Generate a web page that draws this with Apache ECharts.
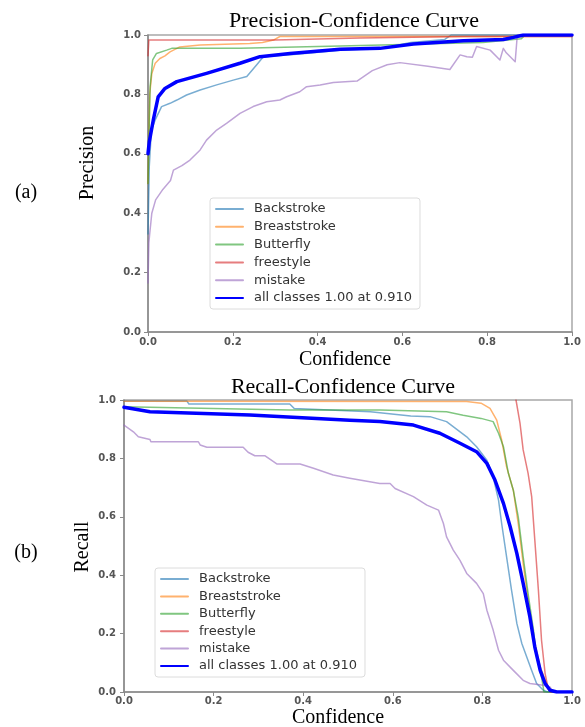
<!DOCTYPE html>
<html>
<head>
<meta charset="utf-8">
<script src="https://cdn.jsdelivr.net/npm/echarts@6/dist/echarts.min.js"></script>
<style>
  html, body { margin: 0; padding: 0; background: #fff; }
  #main { width: 585px; height: 727px; }
</style>
</head>
<body>
<div id="main"></div>
<script>
var classNames = ['Backstroke', 'Breaststroke', 'Butterfly', 'freestyle', 'mistake', 'all classes 1.00 at 0.910']
var classColors = ['#1f77b4', '#ff7f0e', '#2ca02c', '#d62728', '#9467bd', '#0000ff']
var axisTicks = [0, 0.2, 0.4, 0.6, 0.8, 1.0]

// precision - confidence, [confidence, precision]
var precBackstroke = [[0, 0.33], [0.003, 0.557], [0.008, 0.68], [0.017, 0.714], [0.032, 0.759], [0.052, 0.77], [0.068, 0.781], [0.091, 0.798], [0.123, 0.815], [0.162, 0.832], [0.201, 0.848], [0.233, 0.86], [0.256, 0.899], [0.272, 0.927], [0.35, 0.935], [0.453, 0.949], [0.55, 0.955], [0.62, 0.975], [0.70, 0.985], [0.715, 1.0], [1, 1]]
var precBreaststroke = [[0, 0.5], [0.004, 0.8], [0.009, 0.87], [0.017, 0.905], [0.028, 0.921], [0.04, 0.93], [0.052, 0.943], [0.075, 0.96], [0.123, 0.966], [0.24, 0.971], [0.27, 0.975], [0.296, 0.983], [0.311, 0.995], [1, 0.995]]
var precButterfly = [[0, 0.5], [0.003, 0.7], [0.005, 0.826], [0.011, 0.916], [0.02, 0.938], [0.044, 0.949], [0.056, 0.955], [0.217, 0.955], [0.453, 0.963], [0.6, 0.968], [0.79, 0.975], [0.88, 0.987], [0.89, 1], [1, 1]]
var precFreestyle = [[0, 0.93], [0.002, 0.983], [0.3, 0.983], [0.5, 0.99], [0.75, 0.995], [1, 0.995]]
var precMistake = [[0, 0.165], [0.002, 0.3], [0.004, 0.33], [0.009, 0.4], [0.018, 0.445], [0.035, 0.48], [0.053, 0.51], [0.06, 0.545], [0.08, 0.56], [0.099, 0.579], [0.123, 0.613], [0.138, 0.646], [0.162, 0.68], [0.186, 0.703], [0.217, 0.736], [0.248, 0.759], [0.28, 0.775], [0.311, 0.781], [0.327, 0.792], [0.358, 0.809], [0.374, 0.826], [0.406, 0.832], [0.437, 0.84], [0.493, 0.845], [0.529, 0.88], [0.564, 0.9], [0.594, 0.907], [0.66, 0.895], [0.712, 0.884], [0.736, 0.933], [0.752, 0.927], [0.765, 0.925], [0.775, 0.961], [0.807, 0.949], [0.83, 0.916], [0.838, 0.955], [0.845, 0.94], [0.866, 0.91], [0.871, 1.0], [1, 1]]
var precAll = [[0, 0.6], [0.003, 0.64], [0.0125, 0.714], [0.024, 0.792], [0.04, 0.82], [0.068, 0.843], [0.138, 0.871], [0.217, 0.905], [0.264, 0.927], [0.335, 0.938], [0.453, 0.952], [0.547, 0.955], [0.626, 0.97], [0.744, 0.981], [0.838, 0.985], [0.862, 0.992], [0.885, 1.0], [1, 1]]

// recall - confidence, [confidence, recall]
var recBackstroke = [[0, 0.997], [0.14, 0.997], [0.145, 0.986], [0.37, 0.986], [0.38, 0.971], [0.55, 0.96], [0.64, 0.945], [0.683, 0.943], [0.72, 0.926], [0.765, 0.874], [0.787, 0.84], [0.81, 0.794], [0.824, 0.737], [0.836, 0.657], [0.843, 0.577], [0.854, 0.463], [0.865, 0.349], [0.877, 0.234], [0.888, 0.166], [0.899, 0.12], [0.91, 0.074], [0.921, 0.029], [0.936, 0.006], [0.945, 0], [1, 0]]
var recBreaststroke = [[0, 0.996], [0.765, 0.995], [0.797, 0.989], [0.817, 0.971], [0.832, 0.931], [0.843, 0.863], [0.854, 0.771], [0.869, 0.691], [0.88, 0.577], [0.891, 0.44], [0.903, 0.303], [0.914, 0.189], [0.929, 0.086], [0.943, 0.029], [0.951, 0], [1, 0]]
var recButterfly = [[0, 0.977], [0.37, 0.966], [0.571, 0.966], [0.72, 0.96], [0.757, 0.948], [0.797, 0.937], [0.824, 0.926], [0.836, 0.886], [0.847, 0.84], [0.858, 0.749], [0.869, 0.691], [0.88, 0.6], [0.891, 0.463], [0.903, 0.326], [0.914, 0.212], [0.921, 0.12], [0.932, 0.051], [0.9375, 0], [1, 0]]
var recFreestyle = [[0.875, 1.0], [0.884, 0.92], [0.891, 0.829], [0.902, 0.749], [0.91, 0.669], [0.917, 0.52], [0.925, 0.349], [0.932, 0.177], [0.94, 0.063], [0.947, 0.011], [0.952, 0], [1, 0]]
var recMistake = [[0, 0.914], [0.021, 0.891], [0.032, 0.874], [0.058, 0.865], [0.06, 0.857], [0.166, 0.857], [0.17, 0.846], [0.185, 0.838], [0.266, 0.838], [0.277, 0.821], [0.292, 0.809], [0.315, 0.809], [0.341, 0.781], [0.393, 0.781], [0.423, 0.766], [0.467, 0.743], [0.504, 0.732], [0.571, 0.714], [0.594, 0.714], [0.605, 0.697], [0.646, 0.669], [0.676, 0.64], [0.702, 0.623], [0.713, 0.577], [0.72, 0.531], [0.735, 0.486], [0.75, 0.451], [0.765, 0.406], [0.787, 0.372], [0.802, 0.337], [0.81, 0.28], [0.824, 0.212], [0.836, 0.143], [0.847, 0.109], [0.869, 0.074], [0.891, 0.04], [0.906, 0.029], [0.936, 0.023], [0.951, 0.017], [0.958, 0], [1, 0]]
var recAll = [[0, 0.975], [0.058, 0.96], [0.281, 0.949], [0.504, 0.931], [0.571, 0.926], [0.646, 0.914], [0.705, 0.886], [0.75, 0.852], [0.787, 0.823], [0.81, 0.783], [0.828, 0.726], [0.847, 0.646], [0.862, 0.566], [0.877, 0.474], [0.891, 0.372], [0.906, 0.257], [0.917, 0.154], [0.929, 0.074], [0.94, 0.029], [0.951, 0.006], [0.966, 0], [1, 0]]

var precData = [precBackstroke, precBreaststroke, precButterfly, precFreestyle, precMistake, precAll]
var recData = [recBackstroke, recBreaststroke, recButterfly, recFreestyle, recMistake, recAll]

var serif = '"Liberation Serif", "Times New Roman", serif'
var sans = '"DejaVu Sans", sans-serif'

function makeAxis (idx, margin) {
  return {
    gridIndex: idx,
    type: 'value',
    min: axisTicks[0],
    max: axisTicks[axisTicks.length - 1],
    interval: 0.2,
    axisLine: { show: true, onZero: false, lineStyle: { color: '#8a8a8a', width: 1.5 } },
    axisTick: { show: true, inside: false, length: 4, lineStyle: { color: '#8a8a8a' } },
    axisLabel: {
      margin: margin,
      color: '#555',
      fontFamily: sans,
      fontWeight: 'bold',
      fontSize: 10,
      formatter: function (v) { return v.toFixed(1) }
    },
    splitLine: { show: false }
  }
}

function makeSeries (data, axisIdx) {
  var list = []
  for (var i = 0; i < classNames.length; i++) {
    var isAll = i === classNames.length - 1
    list.push({
      name: classNames[i],
      type: 'line',
      xAxisIndex: axisIdx,
      yAxisIndex: axisIdx,
      data: data[i],
      symbol: 'none',
      smooth: false,
      silent: true,
      z: isAll ? 5 : 2,
      lineStyle: { color: classColors[i], width: isAll ? 3.5 : 1.5, opacity: isAll ? 1 : 0.6, join: 'round', cap: 'round' },
      itemStyle: { color: classColors[i] }
    })
  }
  return list
}

function makeLegend (left, top, gap) {
  return {
    orient: 'vertical',
    left: left,
    top: top,
    data: classNames,
    itemWidth: 27,
    itemHeight: 14,
    itemGap: gap,
    padding: [4, 8, 4, 5],
    backgroundColor: 'rgba(255,255,255,0.8)',
    borderColor: '#dcdcdc',
    borderWidth: 1,
    borderRadius: 3,
    selectedMode: false,
    // only the line sample, no marker in the middle
    itemStyle: { color: 'rgba(0,0,0,0)', borderWidth: 0, opacity: 0 },
    textStyle: { fontFamily: sans, fontSize: 13, color: '#333', lineHeight: 14, padding: [0, 0, 0, 6] }
  }
}

function label (text, x, y, size, rot) {
  return {
    type: 'text',
    x: x,
    y: y,
    rotation: rot || 0,
    style: {
      text: text,
      font: size + 'px ' + serif,
      fill: '#000',
      align: 'center',
      verticalAlign: 'middle',
      textAlign: 'center',
      textVerticalAlign: 'middle'
    }
  }
}

var chart = echarts.init(document.getElementById('main'), null, { renderer: 'canvas' })
chart.setOption({
  animation: false,
  backgroundColor: '#fff',
  grid: [
    { left: 148, top: 35, width: 424, height: 297, show: true, borderColor: '#a8a8a8', borderWidth: 1.5, backgroundColor: 'transparent' },
    { left: 124, top: 400, width: 448, height: 292, show: true, borderColor: '#a8a8a8', borderWidth: 1.5, backgroundColor: 'transparent' }
  ],
  xAxis: [makeAxis(0, 5), makeAxis(1, 4)],
  yAxis: [makeAxis(0, 7), makeAxis(1, 8)],
  legend: [makeLegend(210, 198, 3.8), makeLegend(155, 568, 3.4)],
  graphic: [
    label('Precision-Confidence Curve', 354, 21, 22),
    label('Confidence', 345, 360, 20),
    label('Precision', 88, 163, 20, Math.PI / 2),
    label('(a)', 26, 193, 20),
    label('Recall-Confidence Curve', 343, 387, 22),
    label('Confidence', 338, 718, 20),
    label('Recall', 83, 547, 20, Math.PI / 2),
    label('(b)', 26, 553, 20)
  ],
  series: makeSeries(precData, 0).concat(makeSeries(recData, 1))
})
</script>
</body>
</html>
